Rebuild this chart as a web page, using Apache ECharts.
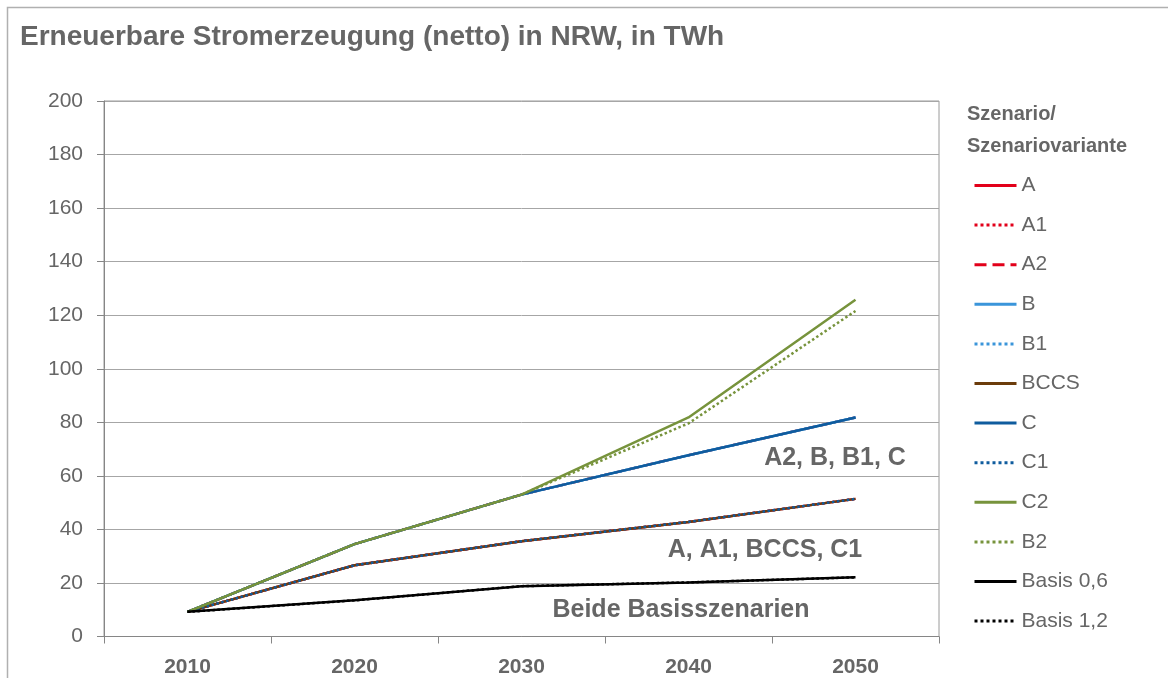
<!DOCTYPE html>
<html>
<head>
<meta charset="utf-8">
<script src="https://cdn.jsdelivr.net/npm/echarts@6/dist/echarts.min.js"></script>
<style>
  html, body { margin: 0; padding: 0; background: #fff; }
  #chart { width: 1168px; height: 678px; }
</style>
</head>
<body>
<div id="chart"></div>
<script>
var myChart = echarts.init(document.getElementById('chart'));

// Daten (TWh)
var years = ['2010', '2020', '2030', '2040', '2050'];
var yTicks = [0, 20, 40, 60, 80, 100, 120, 140, 160, 180, 200];
var lowGroup = [9.2, 26.6, 35.6, 42.8, 51.4];    // A, A1, BCCS, C1
var midGroup = [9.2, 34.5, 53.0, 67.7, 81.8];    // A2, B, B1, C
var c2Data = [9.2, 34.5, 53.0, 81.8, 125.8];
var b2Data = [9.2, 34.5, 53.0, 79.6, 121.6];
var basisData = [9.2, 13.5, 18.8, 20.2, 22.1];   // Basis 0,6 / 1,2

var font = 'Liberation Sans, Arial, sans-serif';
var textColor = '#666666';

var seriesDefs = [
    ['A', lowGroup, '#E2001A', 'solid'],
    ['A1', lowGroup, '#E2001A', 'dotted'],
    ['A2', midGroup, '#E2001A', 'dashed'],
    ['B', midGroup, '#3A95DA', 'solid'],
    ['B1', midGroup, '#3A95DA', 'dotted'],
    ['BCCS', lowGroup, '#6B3C0B', 'solid'],
    ['C', midGroup, '#0F5C9E', 'solid'],
    ['C1', lowGroup, '#0F5C9E', 'dotted'],
    ['C2', c2Data, '#77933C', 'solid'],
    ['B2', b2Data, '#77933C', 'dotted'],
    ['Basis 0,6', basisData, '#000000', 'solid'],
    ['Basis 1,2', basisData, '#000000', 'dotted']
];

var series = seriesDefs.map(function (d) {
    return {
        name: d[0],
        type: 'line',
        data: d[1],
        symbol: 'none',
        color: d[2],
        lineStyle: { color: d[2], width: 2.5, type: d[3] }
    };
});

var option = {
    backgroundColor: '#ffffff',
    animation: false,
    title: {
        text: 'Erneuerbare Stromerzeugung (netto) in NRW, in TWh',
        left: 20,
        top: 23,
        padding: 0,
        textStyle: { fontFamily: font, fontSize: 28, fontWeight: 'bold', color: textColor }
    },
    legend: {
        orient: 'vertical',
        left: 973,
        top: 175,
        padding: 0,
        itemWidth: 42,
        itemHeight: 14,
        itemGap: 18.6,
        selectedMode: false,
        itemStyle: { opacity: 0 },
        lineStyle: { width: 3 },
        textStyle: { fontFamily: font, fontSize: 21, color: textColor, padding: [0, 0, 0, 0] },
        data: seriesDefs.map(function (d) { return d[0]; })
    },
    grid: {
        show: true,
        left: 104,
        top: 101,
        width: 835,
        height: 535.5,
        borderColor: '#9a9a9a',
        borderWidth: 1,
        backgroundColor: 'transparent',
        containLabel: false
    },
    xAxis: {
        type: 'category',
        data: years,
        boundaryGap: true,
        axisLine: { lineStyle: { color: '#868686', width: 1 } },
        axisTick: { show: true, length: 7, lineStyle: { color: '#868686' } },
        axisLabel: { fontFamily: font, fontSize: 21, fontWeight: 'bold', color: textColor, margin: 20 }
    },
    yAxis: {
        type: 'value',
        min: yTicks[0],
        max: yTicks[yTicks.length - 1],
        interval: yTicks[1] - yTicks[0],
        axisLine: { show: true, lineStyle: { color: '#868686', width: 1 } },
        axisTick: { show: true, length: 7, lineStyle: { color: '#868686' } },
        axisLabel: { fontFamily: font, fontSize: 21, color: textColor, margin: 21 },
        splitLine: { show: true, lineStyle: { color: '#a6a6a6', width: 1 } }
    },
    graphic: [
        {
            type: 'rect',
            silent: true,
            shape: { x: 7.5, y: 7.5, width: 1200, height: 720 },
            style: { fill: 'none', stroke: '#b0b0b0', lineWidth: 1.5 }
        },
        {
            type: 'text',
            left: 967,
            top: 98,
            style: {
                text: 'Szenario/\nSzenariovariante',
                fontFamily: font, fontSize: 20, fontWeight: 'bold', fill: textColor, lineHeight: 32
            }
        },
        {
            type: 'text', x: 835, y: 458,
            style: { text: 'A2, B, B1, C', fontFamily: font, fontSize: 25, fontWeight: 'bold', fill: textColor, align: 'center', verticalAlign: 'middle' }
        },
        {
            type: 'text', x: 765, y: 550,
            style: { text: 'A, A1, BCCS, C1', fontFamily: font, fontSize: 25, fontWeight: 'bold', fill: textColor, align: 'center', verticalAlign: 'middle' }
        },
        {
            type: 'text', x: 681, y: 610,
            style: { text: 'Beide Basisszenarien', fontFamily: font, fontSize: 25, fontWeight: 'bold', fill: textColor, align: 'center', verticalAlign: 'middle' }
        }
    ],
    series: series
};

myChart.setOption(option);
</script>
</body>
</html>
